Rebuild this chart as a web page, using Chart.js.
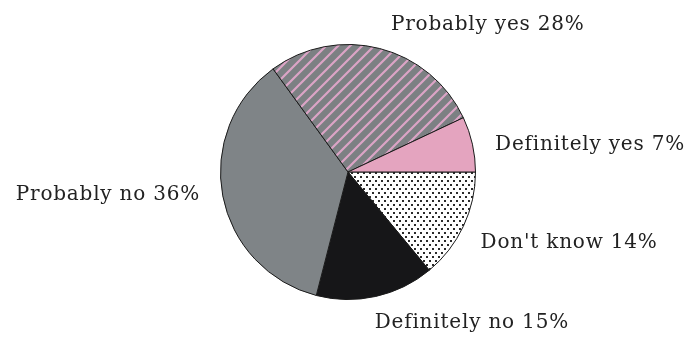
<!DOCTYPE html>
<html>
  <head>
    <meta charset="UTF-8" />
    <title>Pie chart</title>
    <script src="https://cdn.jsdelivr.net/npm/chart.js"></script>
    <style>
      html, body { margin: 0; padding: 0; background: #fff; }
      #wrap { width: 693px; height: 343px; }
    </style>
  </head>
  <body>
    <div id="wrap"><canvas id="pieChart"></canvas></div>
    <script>
      // Slices listed clockwise starting at 3 o'clock.
      const categories = ["Don't know", "Definitely no", "Probably no", "Probably yes", "Definitely yes"];
      const percentages = [14, 15, 36, 28, 7];

      // Build a small canvas pattern.
      function makePattern(w, h, draw) {
        const c = document.createElement("canvas");
        c.width = w;
        c.height = h;
        draw(c.getContext("2d"), w, h);
        return c.getContext("2d").createPattern(c, "repeat");
      }

      // White with small black dots.
      const dotPattern = makePattern(6, 8, (g, w, h) => {
        g.fillStyle = "#ffffff";
        g.fillRect(0, 0, w, h);
        g.fillStyle = "#2a2a2a";
        g.fillRect(0, 0, 2, 2);
        g.fillRect(3, 4, 2, 2);
      });

      // Gray with pink diagonal stripes.
      const stripePattern = makePattern(12, 12, (g, w, h) => {
        g.fillStyle = "#7c8083";
        g.fillRect(0, 0, w, h);
        g.strokeStyle = "#dba4c6";
        g.lineWidth = 2.2;
        g.beginPath();
        g.moveTo(-2, h + 2); g.lineTo(w + 2, -2);
        g.moveTo(-2, 2); g.lineTo(2, -2);
        g.moveTo(w - 2, h + 2); g.lineTo(w + 2, h - 2);
        g.stroke();
      });

      const fills = [dotPattern, "#161618", "#7f8487", stripePattern, "#e4a4bf"];

      // Draw "Name NN%" labels outside each slice.
      const outsideLabels = {
        id: "outsideLabels",
        afterDatasetsDraw(chart) {
          const ctx = chart.ctx;
          const meta = chart.getDatasetMeta(0);
          ctx.save();
          ctx.font = "20px 'DejaVu Serif'";
          ctx.letterSpacing = "0.8px";
          ctx.fillStyle = "#222";
          ctx.textBaseline = "middle";
          meta.data.forEach((arc, i) => {
            // nudge a little clockwise, like the original's label spots
            const mid = (arc.startAngle + arc.endAngle) / 2 + 0.04;
            const x = arc.x + Math.cos(mid) * (arc.outerRadius + 22);
            const y = arc.y + Math.sin(mid) * (arc.outerRadius + 26);
            ctx.textAlign = Math.cos(mid) >= 0 ? "left" : "right";
            ctx.fillText(categories[i] + " " + percentages[i] + "%", x, y);
          });
          ctx.restore();
        }
      };

      new Chart(document.getElementById("pieChart"), {
        type: "pie",
        data: {
          labels: categories,
          datasets: [{
            data: percentages,
            backgroundColor: fills,
            borderColor: "#1a1a1a",
            borderWidth: 1
          }]
        },
        options: {
          responsive: true,
          maintainAspectRatio: false,
          animation: false,
          rotation: 90,
          layout: { padding: { top: 44, bottom: 43, left: 3, right: 0 } },
          plugins: {
            legend: { display: false },
            tooltip: { enabled: false }
          }
        },
        plugins: [outsideLabels]
      });
    </script>
  </body>
</html>
